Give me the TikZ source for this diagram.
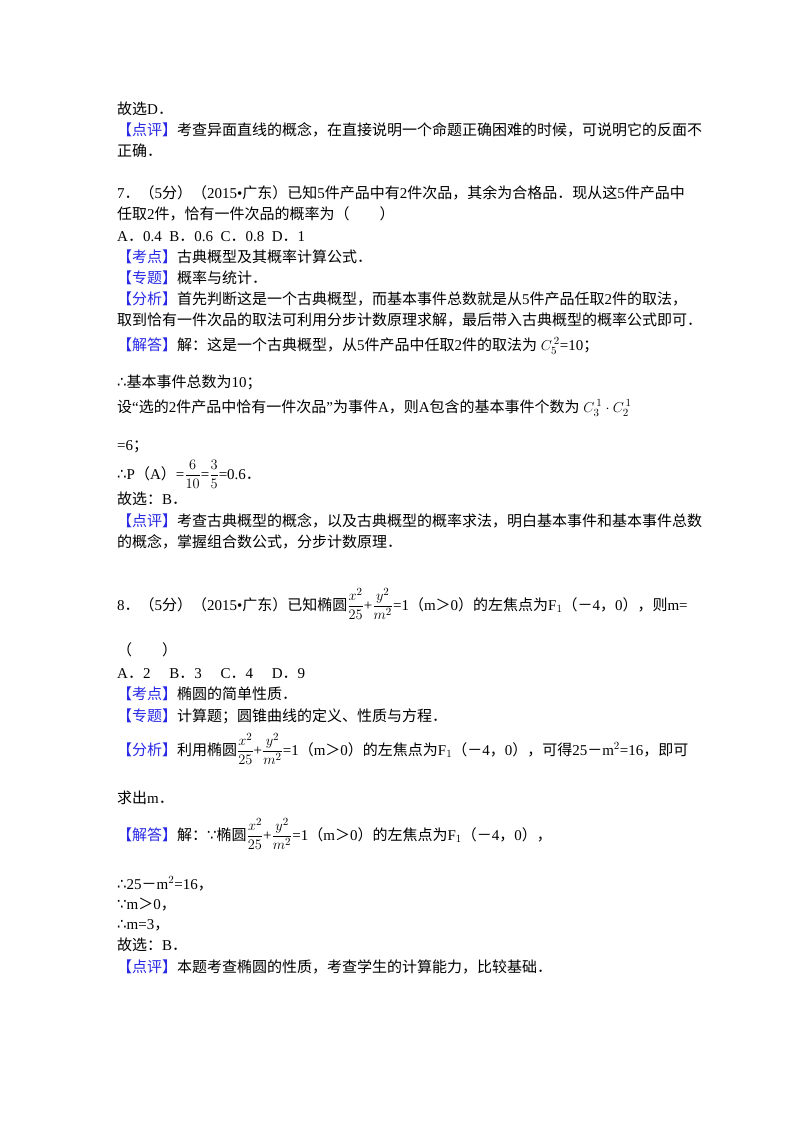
\documentclass[tikz,border=0pt]{standalone}
\usepackage{amsmath}
\usepackage{fontspec}
\setmainfont{Liberation Serif}
\newfontfamily\cjk{Noto Sans CJK SC}
\newfontfamily\symf{DejaVu Sans}
\XeTeXinterchartokenstate=1
\newXeTeXintercharclass\CJKcls
\count255="3000 \loop \XeTeXcharclass\count255=\CJKcls \ifnum\count255<"303F \advance\count255 1 \repeat
\count255="4E00 \loop \XeTeXcharclass\count255=\CJKcls \ifnum\count255<"9FFF \advance\count255 1 \repeat
\count255="FF00 \loop \XeTeXcharclass\count255=\CJKcls \ifnum\count255<"FFEF \advance\count255 1 \repeat
\XeTeXinterchartoks 0 \CJKcls = {\cjk}
\XeTeXinterchartoks 4095 \CJKcls = {\cjk}
\XeTeXinterchartoks \CJKcls 0 = {\rmfamily}
\XeTeXinterchartoks \CJKcls 4095 = {\rmfamily}
\definecolor{tagblue}{RGB}{40,40,230}
\newcommand{\tg}[1]{\textcolor{tagblue}{#1}}
\newcommand{\thf}{{\symf ∴}}
\newcommand{\bec}{{\symf ∵}}
\begin{document}
\begin{tikzpicture}[x=1pt,y=-1pt,
  ln/.style={anchor=base west,inner sep=0pt,font=\fontsize{15}{18}\selectfont}]
\useasboundingbox (0,0) rectangle (800,1132);
\fill[white] (0,0) rectangle (800,1132);
\node[ln] (l1) at (117,114) {故选D．};
\node[ln] (l2) at (117,135) {\tg{【点评】}考查异面直线的概念，在直接说明一个命题正确困难的时候，可说明它的反面不};
\node[ln] (l3) at (117,156) {正确．};
\node[ln] (l4) at (117,198) {7．（5分）（2015•广东）已知5件产品中有2件次品，其余为合格品．现从这5件产品中};
\node[ln] (l5) at (117,219) {任取2件，恰有一件次品的概率为（　　）};
\node[ln] (l6) at (117,241) {A．0.4\ \ B．0.6\ \ C．0.8\ \ D．1};
\node[ln] (l7) at (117,262) {\tg{【考点】}古典概型及其概率计算公式．};
\node[ln] (l8) at (117,283) {\tg{【专题】}概率与统计．};
\node[ln] (l9) at (117,304) {\tg{【分析】}首先判断这是一个古典概型，而基本事件总数就是从5件产品任取2件的取法，};
\node[ln] (l10) at (117,325) {取到恰有一件次品的取法可利用分步计数原理求解，最后带入古典概型的概率公式即可．};
\node[ln] (l11) at (117,350) {\tg{【解答】}解：这是一个古典概型，从5件产品中任取2件的取法为 $C_5^{\,2}$=10；};
\node[ln] (l12) at (117,387) {\thf 基本事件总数为10；};
\node[ln] (l13) at (117,412) {设“选的2件产品中恰有一件次品”为事件A，则A包含的基本事件个数为 $C_3^{\,1}\cdot C_2^{\,1}$};
\node[ln] (l14) at (117,450) {=6；};
\node[ln] (l15) at (117,479) {\thf P（A）=$\dfrac{6}{10}$=$\dfrac{3}{5}$=0.6．};
\node[ln] (l16) at (117,504) {故选：B．};
\node[ln] (l17) at (117,526) {\tg{【点评】}考查古典概型的概念，以及古典概型的概率求法，明白基本事件和基本事件总数};
\node[ln] (l18) at (117,547) {的概念，掌握组合数公式，分步计数原理．};
\node[ln] (l19) at (117,610) {8．（5分）（2015•广东）已知椭圆$\dfrac{x^2}{25}$+$\dfrac{y^2}{m^2}$=1（m＞0）的左焦点为F$_1$（－4，0），则m=};
\node[ln] (l20) at (117,655) {（　　）};
\node[ln] (l21) at (117,678) {A．2\quad\ B．3\quad\ C．4\quad\ D．9};
\node[ln] (l22) at (117,699) {\tg{【考点】}椭圆的简单性质．};
\node[ln] (l23) at (117,721) {\tg{【专题】}计算题；圆锥曲线的定义、性质与方程．};
\node[ln] (l24) at (117,755) {\tg{【分析】}利用椭圆$\dfrac{x^2}{25}$+$\dfrac{y^2}{m^2}$=1（m＞0）的左焦点为F$_1$（－4，0），可得25－m$^2$=16，即可};
\node[ln] (l25) at (117,803) {求出m．};
\node[ln] (l26) at (117,840) {\tg{【解答】}解：\bec 椭圆$\dfrac{x^2}{25}$+$\dfrac{y^2}{m^2}$=1（m＞0）的左焦点为F$_1$（－4，0），};
\node[ln] (l27) at (117,889) {\thf 25－m$^2$=16，};
\node[ln] (l28) at (117,909) {\bec m＞0，};
\node[ln] (l29) at (117,929) {\thf m=3，};
\node[ln] (l30) at (117,950) {故选：B．};
\node[ln] (l31) at (117,972) {\tg{【点评】}本题考查椭圆的性质，考查学生的计算能力，比较基础．};
\end{tikzpicture}
\end{document}
